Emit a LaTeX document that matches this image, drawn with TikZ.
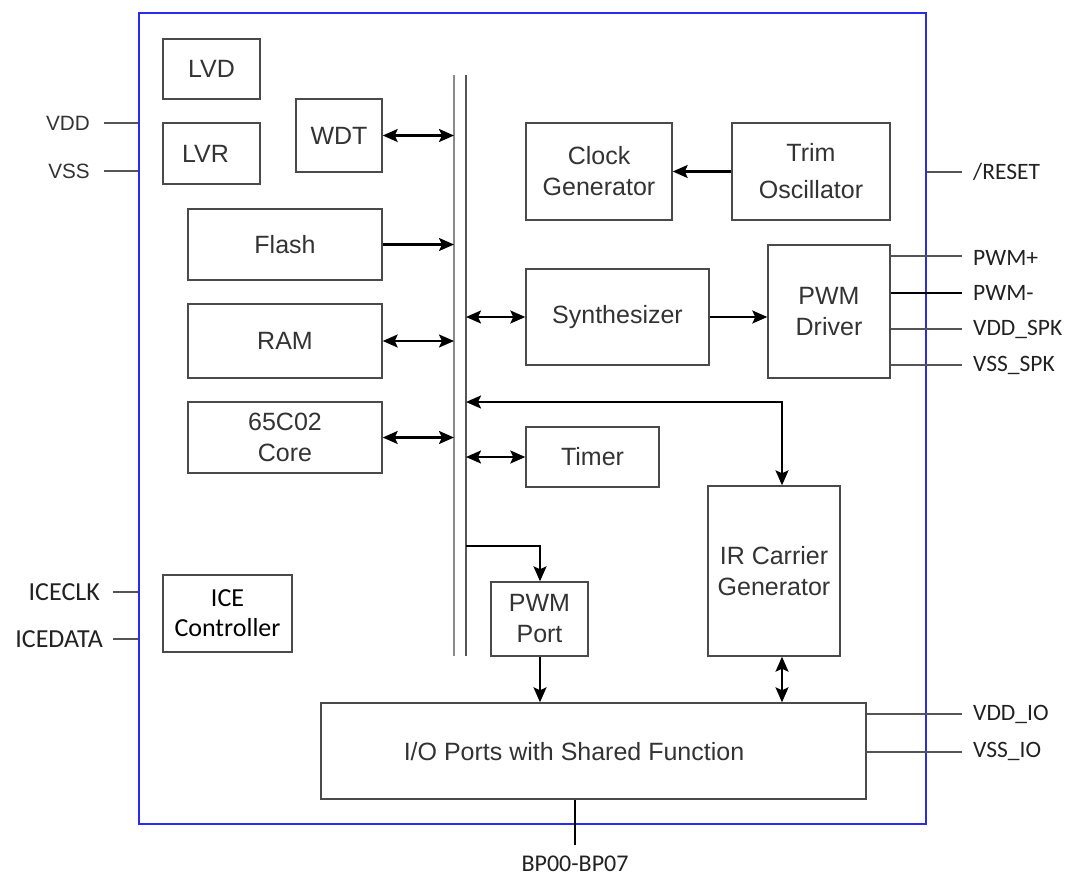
\documentclass[tikz,border=0pt]{standalone}
\usepackage{fontspec}
\setmainfont{Liberation Sans}
\newfontfamily\calib{Carlito}
\usetikzlibrary{arrows.meta,fit}
\definecolor{boxc}{HTML}{4A4A4A}
\definecolor{txtc}{HTML}{333333}
\definecolor{framec}{HTML}{2B2BEF}
\definecolor{pinc}{HTML}{222222}
\definecolor{wirec}{HTML}{555555}
\definecolor{busa}{HTML}{8A8A8A}
\definecolor{busb}{HTML}{555555}
\begin{document}
\begin{tikzpicture}[x=1pt,y=-1pt,
  blk/.style={draw=boxc, line width=1.4pt, inner sep=0pt, align=center, text=txtc,
    font=\fontsize{25}{31}\selectfont},
  cblk/.style={draw=boxc, line width=1.4pt, inner sep=0pt, align=center, text=black,
    font=\calib\fontsize{26}{30}\selectfont},
  sz/.style 2 args={minimum width=#1pt, minimum height=#2pt},
  txt/.style={inner sep=0pt, text=txtc, font=\fontsize{25}{31}\selectfont},
  frm/.style={draw=framec, line width=2pt, inner sep=0pt},
  tip/.tip={Stealth[length=15pt,width=13pt,inset=3pt]},
  sgl/.style={line width=2.1pt, -tip},
  dbl/.style={line width=2.1pt, tip-tip},
  wire/.style={draw=wirec, line width=1.4pt},
  pinr/.style={inner sep=0pt, anchor=west, text=pinc, font=\calib\fontsize{23.5}{26}\selectfont},
  pinice/.style={inner sep=0pt, anchor=east, text=pinc, font=\calib\fontsize{26}{28}\selectfont},
  pinv/.style={inner sep=0pt, anchor=east, text=txtc, font=\fontsize{20.7}{24}\selectfont},
  busa/.style={draw=busa, line width=1.5pt},
  busb/.style={draw=busb, line width=1.5pt}]
\useasboundingbox (0,0) rectangle (1068,876);

% frame
\node[frm, fit={(139,13) (926,824)}] (frame) {};

% blocks
\node[blk, sz={97}{60}] (lvd) at (211.5,69) {LVD};
\node[blk, sz={97}{61}] (lvr) at (211.5,153.5) {LVR\hspace*{12pt}};
\node[blk, sz={86}{73}] (wdt) at (339,135.5) {WDT};
\node[blk, sz={194}{71}] (flash) at (285,244.5) {Flash};
\node[blk, sz={194}{74}] (ram) at (285,341) {RAM};
\node[blk, sz={194}{71}] (core) at (285,437.5) {65C02\\Core};
\node[blk, sz={146}{97}] (clock) at (599,171.5) {Clock\\Generator};
\node[blk, sz={158}{97}, font=\fontsize{25}{37}\selectfont] (trim) at (811,171.5) {Trim\\Oscillator};
\node[blk, sz={183}{96}] (synth) at (617.5,317) {\raisebox{-4pt}{Synthesizer}};
\node[blk, sz={122}{133}] (drv) at (829,311.5) {PWM\\Driver};
\node[blk, sz={133}{60}] (timer) at (592.5,457) {Timer};
\node[blk, sz={132}{170}] (ir) at (774,571) {IR Carrier\\Generator};
\node[blk, sz={97}{74}] (pwmport) at (539.5,619) {PWM\\Port};
\node[blk, sz={545}{96}] (io) at (593.5,751) {};
\node[txt] (iotext) at (574,752) {I/O Ports with Shared Function};
\node[cblk, sz={129}{77}] (ice) at (227.5,613.5) {ICE\\Controller};

% bus
\coordinate (blt) at (454,75);
\coordinate (blb) at (454,656);
\coordinate (brt) at (466,75);
\coordinate (brb) at (466,656);
\draw[busa] (blt) -- (blb);
\draw[busb] (brt) -- (brb);

% connections to bus
\draw[dbl] (wdt.east) -- (wdt.east -| blt);
\draw[sgl] (flash.east) -- (flash.east -| blt);
\draw[dbl] (ram.east) -- (ram.east -| blt);
\draw[dbl] (core.east) -- (core.east -| blt);
\draw[dbl] (brt |- synth.west) -- (synth.west);
\draw[dbl] (brt |- timer.west) -- (timer.west);
\coordinate (irx) at (782,402);
\draw[dbl] (brt |- irx) -| (ir.north -| irx);
\coordinate (pj) at (540,546);
\draw[sgl] (brt |- pj) -| (pwmport.north -| pj);
\draw[sgl] (pwmport.south -| pj) -- (io.north -| pj);
\draw[dbl] (ir.south -| irx) -- (io.north -| irx);
\draw[sgl] (trim.west) -- (clock.east);
\draw[sgl] (synth.east) -- (synth.east -| drv.west);

% left pins
\node[pinv] (lvdd) at (90,123) {VDD};
\node[pinv] (lvss) at (90,171) {VSS};
\coordinate (pvdd) at (104,123);
\coordinate (pvss) at (104,171);
\draw[wire] (pvdd) -- (pvdd -| frame.west);
\draw[wire] (pvss) -- (pvss -| frame.west);
\node[pinice] (liceclk) at (100,592) {ICECLK};
\node[pinice] (licedata) at (103,639) {ICEDATA};
\coordinate (piceclk) at (113,592);
\coordinate (picedata) at (113,639);
\draw[wire] (piceclk) -- (piceclk -| frame.west);
\draw[wire] (picedata) -- (picedata -| frame.west);

% right pins
\node[pinr] (lreset) at (973,172) {/RESET};
\coordinate (preset) at (962,172);
\draw[wire] (preset -| frame.east) -- (preset);
\node[pinr] (lpwmp) at (973,258) {PWM+};
\node[pinr] (lpwmm) at (973,293) {PWM-};
\node[pinr] (lvddspk) at (973,329) {VDD\_SPK};
\node[pinr] (lvssspk) at (973,365) {VSS\_SPK};
\coordinate (ppwmp) at (962,256);
\coordinate (ppwmm) at (962,293);
\coordinate (pvddspk) at (962,329);
\coordinate (pvssspk) at (962,365);
\draw[wire] (ppwmp -| drv.east) -- (ppwmp);
\draw[wire, draw=black] (ppwmm -| drv.east) -- (ppwmm);
\draw[wire] (pvddspk -| drv.east) -- (pvddspk);
\draw[wire] (pvssspk -| drv.east) -- (pvssspk);
\node[pinr] (lvddio) at (973,714) {VDD\_IO};
\node[pinr] (lvssio) at (973,751) {VSS\_IO};
\coordinate (pvddio) at (962,714);
\coordinate (pvssio) at (962,752);
\draw[wire] (pvddio -| io.east) -- (pvddio);
\draw[wire] (pvssio -| io.east) -- (pvssio);

% bottom pin
\coordinate (pbp) at (575,845);
\draw[line width=1.8pt] (io.south -| pbp) -- (pbp);
\node[inner sep=0pt, anchor=base, text=pinc, font=\calib\fontsize{24}{26}\selectfont] (lbp) at (575,871) {BP00-BP07};
\end{tikzpicture}
\end{document}
